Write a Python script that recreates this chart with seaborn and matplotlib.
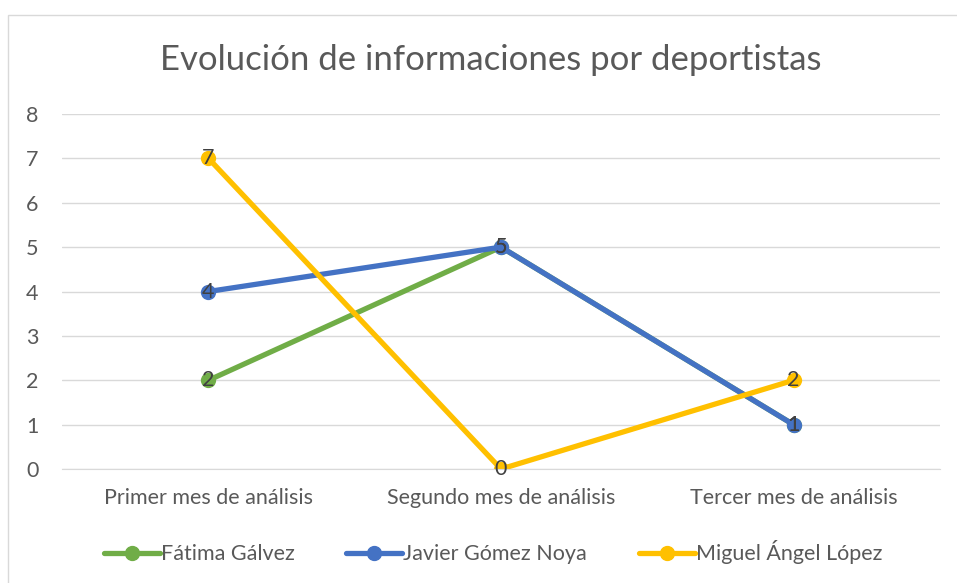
import pandas as pd
import matplotlib.pyplot as plt
import seaborn as sns
from matplotlib.patches import Rectangle

# chart data
periods = ['Primer mes de análisis', 'Segundo mes de análisis', 'Tercer mes de análisis']
athletes = ['Fátima Gálvez', 'Javier Gómez Noya', 'Miguel Ángel López']
fatima = [2, 5, 1]
javier = [4, 5, 1]
miguel = [7, 0, 2]
colors = ['#70AD47', '#4472C4', '#FFC000']

series = [fatima, javier, miguel]

rows = []
for name, vals in zip(athletes, series):
    for p, v in zip(periods, vals):
        rows.append({'Periodo': p, 'Valor': v, 'Deportista': name})
df = pd.DataFrame(rows)

sns.set_style('white')
plt.rcParams['font.family'] = ['Lato', 'DejaVu Sans']

fig = plt.figure(figsize=(9.57, 5.83), dpi=100)
ax = fig.add_axes([0.065, 0.1955, 0.917, 0.609])

sns.lineplot(data=df, x='Periodo', y='Valor', hue='Deportista', palette=colors,
             marker='o', markersize=11, linewidth=3.8, markeredgewidth=0,
             sort=False, ax=ax, legend=False)

# data labels
for name, vals in zip(athletes, series):
    for i, v in enumerate(vals):
        ax.text(i, v, str(v), ha='center', va='center', fontsize=15.5, color='#404040')

ax.set_xlim(-0.5, 2.5)
ax.set_ylim(0, 8)
ax.set_yticks(range(0, 9))
ax.grid(axis='y', color='#D9D9D9', linewidth=1)
ax.set_axisbelow(True)
for s in ['top', 'right', 'left']:
    ax.spines[s].set_visible(False)
ax.spines['bottom'].set_color('#D9D9D9')
ax.tick_params(axis='both', length=0, labelsize=15.5, labelcolor='#595959', pad=14)
ax.tick_params(axis='y', pad=17)
ax.set_xlabel('')
ax.set_ylabel('')

fig.text(0.513, 0.897, 'Evolución de informaciones por deportistas', ha='center', va='center',
         fontsize=25, color='#595959')

handles = [plt.Line2D([], [], color=c, linewidth=3.8, marker='o', markersize=10) for c in colors]
fig.legend(handles, athletes, loc='center', bbox_to_anchor=(0.515, 0.053), ncol=3, frameon=False,
           fontsize=15.5, labelcolor='#595959', handlelength=2.6, handletextpad=0.05, columnspacing=2.4)

fig.patches.append(Rectangle((8 / 957, -0.01), 1.0, 1 - 15 / 583 + 0.01, transform=fig.transFigure,
                             fill=False, edgecolor='#D9D9D9', linewidth=1))

fig.savefig('out.png', dpi=100)
